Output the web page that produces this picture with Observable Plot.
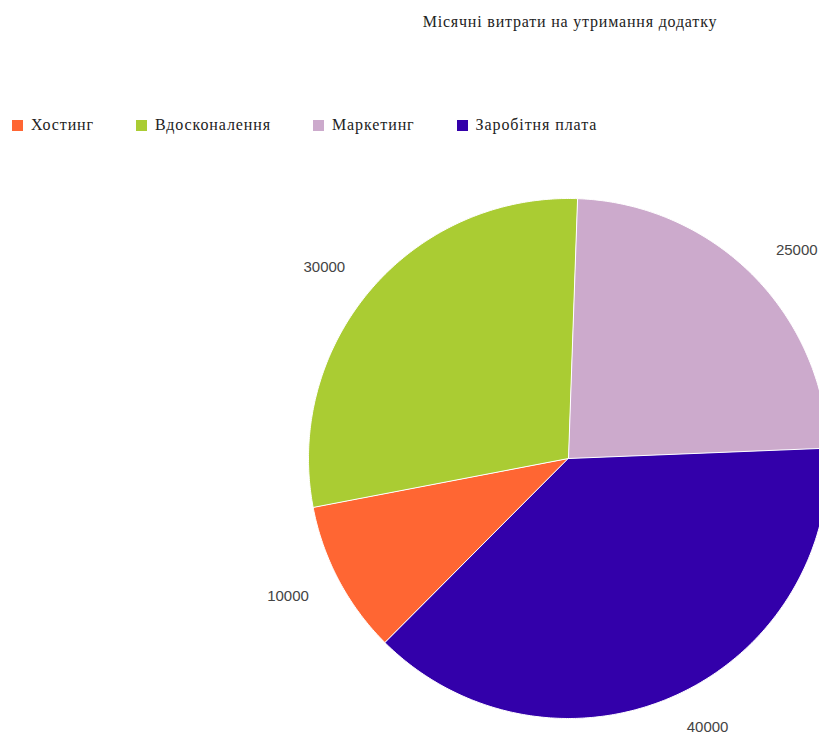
<!DOCTYPE html>
<html>
<head>
<meta charset="utf-8">
<script src="https://cdn.jsdelivr.net/npm/d3@7"></script>
<script src="https://cdn.jsdelivr.net/npm/@observablehq/plot@0.6"></script>
<style>
  html, body { margin: 0; padding: 0; background: #fff; }
  #page { position: relative; width: 819px; height: 739px; overflow: hidden; }
  #header { position: relative; height: 140px; }
  #title { position: absolute; left: 0; width: 1140px; top: 12px; text-align: center;
           font-family: "Liberation Serif", "Times New Roman", serif; font-size: 16px; letter-spacing: 0.8px; color: #222; line-height: 20px; }
  #legend { position: absolute; left: 12px; top: 115px; display: flex; gap: 42px;
            font-family: "Liberation Serif", "Times New Roman", serif; font-size: 16px; letter-spacing: 0.9px; color: #222; line-height: 20px; }
  .item { display: flex; align-items: center; }
  .sw { width: 11px; height: 11px; margin-right: 8px; }
  svg { display: block; }
</style>
</head>
<body>
<div id="page">
  <div id="header">
    <div id="title"></div>
    <div id="legend"></div>
  </div>
  <div id="chart"></div>
</div>
<script>
const title = "Місячні витрати на утримання додатку";
const categories = ["Хостинг", "Вдосконалення", "Маркетинг", "Заробітня плата"];
const values = [10000, 30000, 25000, 40000];
const colors = ["#ff6633", "#aacc33", "#ccaacc", "#3300aa"];

document.getElementById("title").textContent = title;
const legend = document.getElementById("legend");
categories.forEach((c, i) => {
  const it = document.createElement("div");
  it.className = "item";
  const sw = document.createElement("span");
  sw.className = "sw";
  sw.style.background = colors[i];
  const t = document.createElement("span");
  t.textContent = c;
  it.appendChild(sw); it.appendChild(t);
  legend.appendChild(it);
});

const R = 260, LR = 294;
const start = 224.86 * Math.PI / 180;
const pie = d3.pie().sort(null).value(d => d.value).startAngle(start).endAngle(start + 2 * Math.PI);
const data = categories.map((name, i) => ({name, value: values[i]}));
const arcs = pie(data);

const pts = [];
const labels = [];
arcs.forEach(a => {
  const name = a.data.name;
  pts.push({name, x: 0, y: 0});
  const n = Math.max(2, Math.ceil((a.endAngle - a.startAngle) / (0.5 * Math.PI / 180)));
  for (let k = 0; k <= n; k++) {
    const t = a.startAngle + (a.endAngle - a.startAngle) * k / n;
    pts.push({name, x: R * Math.sin(t), y: R * Math.cos(t)});
  }
  const m = (a.startAngle + a.endAngle) / 2;
  labels.push({name, value: a.data.value, x: LR * Math.sin(m), y: LR * Math.cos(m), right: Math.sin(m) >= 0});
});

const W = 819, H = 599, CX = 568, CY = 318;
const chart = Plot.plot({
  width: W, height: H, margin: 0,
  x: {domain: [-CX, W - CX], axis: null},
  y: {domain: [-(H - CY), CY], axis: null},
  color: {domain: categories, range: colors},
  style: {background: "white"},
  marks: [
    Plot.line(pts, {x: "x", y: "y", z: "name", fill: "name", stroke: "white", strokeWidth: 1, curve: "linear-closed"}),
    Plot.text(labels.filter(d => d.right), {x: "x", y: "y", text: d => String(d.value), textAnchor: "start",
      fontFamily: "Liberation Sans, Arial, sans-serif", fontSize: 15, fill: "#444"}),
    Plot.text(labels.filter(d => !d.right), {x: "x", y: "y", text: d => String(d.value), textAnchor: "end",
      fontFamily: "Liberation Sans, Arial, sans-serif", fontSize: 15, fill: "#444"})
  ]
});
document.getElementById("chart").appendChild(chart);
</script>
</body>
</html>
